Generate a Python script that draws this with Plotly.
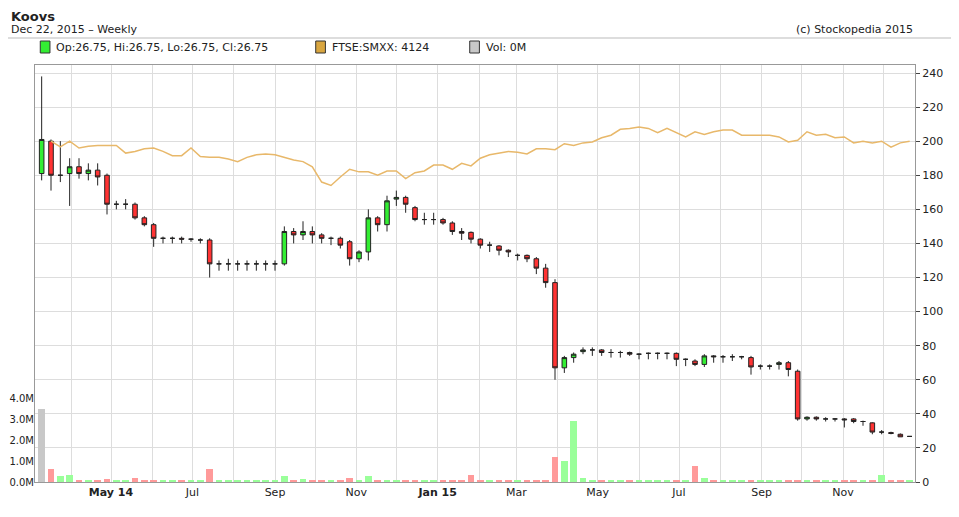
import plotly.graph_objects as go
import pandas as pd

dates = pd.date_range(end="2015-12-21", periods=94, freq="7D")
opens = [181,200,180,181,185,181,183,180,163,163,163,155,151,143,143,143,142.5,142,142,128,128,128,128,128,128,128,128,147,145,147,145,143,143,141,131,135,155,151,166,167,161,154,154,154,152,147,146.5,142.5,139,138.5,136,133,133,131,125.5,117,67,73,76.5,77.5,77.5,76,76,76,75,75.5,75.5,75.5,75.5,72,71,69,74,73.5,73.5,73.5,73,68,68,69,70,65,37,38,37,37,37,37,35.5,34.7,29.3,29,28,26.75]
highs = [238,201,200,190,190,187,187,181,165,166,164,156,152,144,144,144,143,143,143,130,131,130,130,130,130,130,150,149,153,150,146,144,144,142,136,160,156,168,171,168,162,158,158,155,153,149,147,143,141,139,136.5,134,133.5,132,128,119,74,76,79,79,78,78,77,76.5,75.5,76,76,76,76,72.5,72,75,74.5,74.5,75,74,74,69,69,71,71,66,38.5,38.5,38,37.5,37.5,37.5,36,35,30.5,29.5,28.5,26.75]
lows = [177,171,176,162,178,177,174,157,160,160,154,150,138,140,140,140,141,140,120,124,124,124,124,124,124,124,127,140,142,140,140,139,137,127,129,130,147,147,162,158,153,151,151,151,145,142,140,137,135,133,132,130,129,122,114,60,64,70,75,74,74,73,73,74,72,72,72,72,68,68,68,67.5,70,70,71,72,63,66,66,66,62,36,36,36,35.5,35.5,32,34.5,33,28,28,28,26.5,26.75]
closes = [201,180,180,185,181,183,179,163,163,163,155,151,143,143,143,142.5,142.5,142,128,128,128,128,128,128,128,128,147,145,147,145,143,143,139,131,135,155,151,165,167,163,154,154,154,152,147,146,142.5,139,139,136,135,133,131,125.5,117,67,73,75,77.5,77.5,76,76,76,75,75,75.5,75.5,75.5,72,72,69,74,73.5,73.5,73.5,73.5,67.5,68,68,70,66,37,38,37,37,37,36.5,35.5,35.5,29.3,29.3,28.5,26.5,26.75]
volume_m = [3.5,0.6,0.3,0.35,0.1,0.05,0.1,0.15,0.05,0.1,0.2,0.1,0.1,0.05,0.05,0.05,0.05,0.05,0.6,0.1,0.05,0.05,0.05,0.05,0.05,0.05,0.3,0.1,0.15,0.05,0.05,0.05,0.05,0.2,0.1,0.3,0.05,0.05,0.05,0.05,0.05,0.05,0.05,0.05,0.05,0.05,0.35,0.05,0.05,0.05,0.05,0.05,0.05,0.05,0.05,1.2,1.0,2.9,0.2,0.05,0.05,0.05,0.05,0.05,0.05,0.05,0.05,0.05,0.05,0.05,0.75,0.2,0.05,0.05,0.05,0.05,0.05,0.05,0.05,0.05,0.05,0.05,0.05,0.05,0.05,0.05,0.05,0.05,0.05,0.05,0.35,0.05,0.05,0.05]
ftse = [None,200,196.6,200,196,197,197.5,197.5,197.5,193,194,195.5,196,194,191.5,191.5,196,191,190.5,190.5,189.5,188,190.5,192,192.5,192,190.5,189,188,185,176,174,179,183.5,182,182,180,182.5,182.5,178,181.5,182.5,186,186,183.5,187,
        185.5,190,192,193,194,193.5,192.5,195.5,195.5,195,198.5,197.5,199,199.5,202,203.5,207,207.5,208.3,207.5,205,207.5,205,202.5,205.5,204,205.5,206.5,206.5,203.5,203.5,203.5,203.5,202.5,199.5,200.5,205.5,203.5,204,202,202.5,199,200,199,200,196.5,199,200]
month_ticks = pd.date_range("2014-04-01", "2015-12-01", freq="MS")
tick_text = {"2014-05":"<b>May 14</b>","2014-07":"Jul","2014-09":"Sep","2014-11":"Nov","2015-01":"<b>Jan 15</b>",
             "2015-03":"Mar","2015-05":"May","2015-07":"Jul","2015-09":"Sep","2015-11":"Nov"}

vcol = []
for i,(o,c) in enumerate(zip(opens,closes)):
    if i == 0: vcol.append("#c8c8c8")
    elif c < o: vcol.append("#ff9a9a")
    else: vcol.append("#9aff9a")

fig = go.Figure()
fig.add_trace(go.Bar(x=dates, y=volume_m, marker_color=vcol, marker_line_width=0, yaxis="y2", width=5*86400000))
fig.add_trace(go.Scatter(x=dates, y=ftse, mode="lines", line=dict(color="#e8b86a", width=1.5), connectgaps=False))
fig.add_trace(go.Candlestick(x=dates, open=opens, high=highs, low=lows, close=closes, whiskerwidth=0,
    increasing=dict(fillcolor="#33ee33", line=dict(color="#222", width=1)),
    decreasing=dict(fillcolor="#ff3333", line=dict(color="#222", width=1))))

f = dict(family="DejaVu Sans", size=11, color="#222")
PH = 501 - 57 - 27
fig.update_layout(
    width=943, height=501, margin=dict(l=27, r=36, t=57, b=27, autoexpand=False),
    paper_bgcolor="white", plot_bgcolor="white", showlegend=False, font=f, bargap=0,
    xaxis=dict(range=["2014-03-05","2015-12-25"], tickvals=list(month_ticks), automargin=False,
               ticktext=[tick_text.get(d.strftime("%Y-%m"), "") for d in month_ticks],
               showgrid=True, gridcolor="#dddddd", rangeslider=dict(visible=False),
               showline=True, linecolor="#999", mirror=True, ticks="", tickfont=f),
    yaxis=dict(side="right", range=[0,244.7], tickvals=list(range(0,241,20)), showgrid=True, gridcolor="#dddddd",
               ticks="outside", ticklen=4, showline=True, linecolor="#999", mirror=True, zeroline=False, automargin=False),
    yaxis2=dict(overlaying="y", side="left", range=[0,19.86], tickvals=[0,1,2,3,4], automargin=False,
                ticktext=["0.0M","1.0M","2.0M","3.0M","4.0M"], showgrid=False, zeroline=False, ticks="",
                tickfont=dict(family="DejaVu Sans", size=10, color="#222")),
)
def py(px):  # window pixel y -> paper
    return 1 + (65 - px) / PH
fig.add_annotation(x=-0.029, y=py(16), xref="paper", yref="paper", xanchor="left", yanchor="middle",
                   text="<b>Koovs</b>", showarrow=False, font=dict(family="DejaVu Sans", size=13, color="#222"))
fig.add_annotation(x=-0.029, y=py(29), xref="paper", yref="paper", xanchor="left", yanchor="middle",
                   text="Dec 22, 2015 \u2013 Weekly", showarrow=False, font=dict(family="DejaVu Sans", size=11, color="#222"))
fig.add_annotation(x=1.0, y=py(29), xref="paper", yref="paper", xanchor="right", yanchor="middle",
                   text="(c) Stockopedia 2015", showarrow=False, font=dict(family="DejaVu Sans", size=11, color="#222"))
leg = [(0.006, "#33ee33", "Op:26.75, Hi:26.75, Lo:26.75, Cl:26.75"),
       (0.319, "#d9a640", "FTSE:SMXX: 4124"),
       (0.494, "#c8c8c8", "Vol: 0M")]
fig.add_shape(type="line", xref="paper", yref="paper", x0=-0.04, x1=1.05, y0=py(38), y1=py(38), line=dict(color="#bbb", width=1))
for x, c, t in leg:
    fig.add_shape(type="rect", xref="paper", yref="paper", x0=x, x1=x+0.011, y0=py(53), y1=py(41),
                  fillcolor=c, line=dict(color="#333", width=1))
    fig.add_annotation(x=x+0.016, y=py(47), xref="paper", yref="paper", xanchor="left", yanchor="middle",
                       text=t, showarrow=False, font=dict(family="DejaVu Sans", size=11, color="#222"))
fig.write_html("out.html")
